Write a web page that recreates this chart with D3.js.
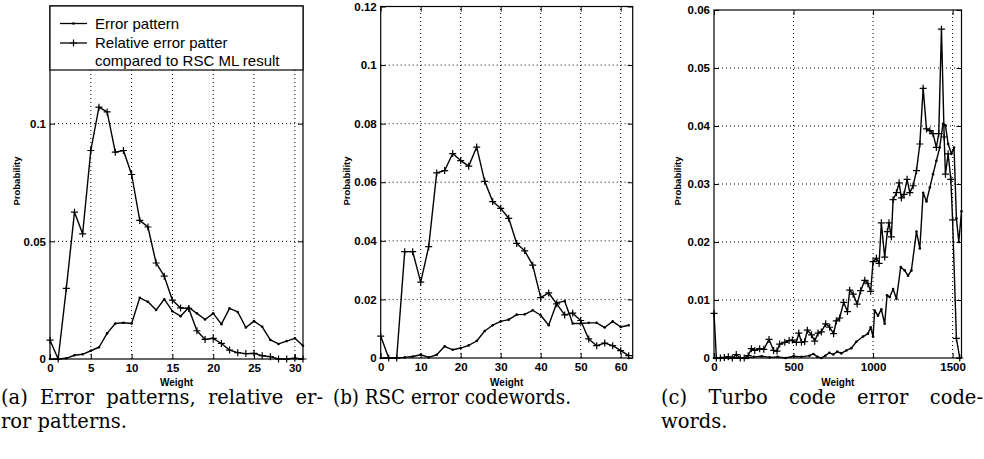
<!DOCTYPE html>
<html><head><meta charset="utf-8">
<script src="https://cdn.jsdelivr.net/npm/d3@7"></script>
<style>
body{margin:0;background:#fff;}
svg{display:block;}
</style></head><body>
<svg id="chart" width="984" height="459"></svg>
<script>
// ---------- data ----------
const aWeights = d3.range(0, 32);
const aErrorPattern = [0, 0, 0.0003, 0.0016, 0.002, 0.0035, 0.005, 0.0109, 0.0151, 0.0154, 0.0151, 0.026, 0.0243, 0.0208, 0.0254, 0.0203, 0.0182, 0.0219, 0.0194, 0.0168, 0.0194, 0.0148, 0.0215, 0.0200, 0.0134, 0.0161, 0.0137, 0.0081, 0.0064, 0.0076, 0.0088, 0.0056];
const aRelativePattern = [0.008, 0, 0.030, 0.0624, 0.0532, 0.0886, 0.107, 0.105, 0.0879, 0.0886, 0.0784, 0.0589, 0.0561, 0.0408, 0.0352, 0.025, 0.0217, 0.0215, 0.012, 0.0083, 0.0088, 0.0066, 0.0038, 0.0027, 0.0023, 0.0024, 0.0014, 0.001, 0, 0, 0.0003, 0];

const bWeights = d3.range(0, 63, 2);
const bErrorCodewords = [0, 0, 0, 0.0002, 0.0005, 0.0011, 0.0002, 0.0011, 0.004, 0.0028, 0.0034, 0.0043, 0.0058, 0.0092, 0.0112, 0.0125, 0.0131, 0.0148, 0.0149, 0.0163, 0.0146, 0.0112, 0.0188, 0.0194, 0.0118, 0.0118, 0.012, 0.012, 0.0104, 0.0125, 0.0106, 0.0112];
const bRelativeCodewords = [0.0075, 0, 0, 0.0363, 0.0363, 0.0259, 0.038, 0.0632, 0.064, 0.0698, 0.0674, 0.0655, 0.072, 0.0603, 0.0534, 0.0511, 0.0477, 0.0391, 0.0366, 0.0317, 0.0206, 0.0222, 0.0185, 0.0147, 0.0153, 0.0128, 0.0065, 0.0042, 0.0051, 0.0042, 0.0025, 0.0008];

const cErrWeights = [0, 100, 200, 250, 300, 350, 400, 450, 500, 550, 600, 625, 650, 675, 700, 725, 750, 775, 800, 832, 864, 895, 937, 968, 985, 1000, 1010, 1031, 1052, 1073, 1088, 1105, 1126, 1147, 1174, 1199, 1220, 1241, 1273, 1294, 1315, 1336, 1357, 1377, 1398, 1419, 1440, 1455, 1472, 1493, 1509, 1524, 1539, 1556];
const cErrorCodewords = [0, 0, 0, 0.0002, 0.0003, 0.0001, 0.0002, 0, 0.0003, 0.0002, 0.0004, 0.0007, 0.0002, 0, 0.0004, 0.0009, 0.0006, 0.0011, 0.0008, 0.0013, 0.0017, 0.0028, 0.0037, 0.0042, 0.0053, 0.0037, 0.0082, 0.0073, 0.0084, 0.0059, 0.0108, 0.0105, 0.0119, 0.0102, 0.0157, 0.0151, 0.0142, 0.0151, 0.0218, 0.0189, 0.0285, 0.027, 0.0294, 0.0317, 0.034, 0.0363, 0.0404, 0.0401, 0.0369, 0.0352, 0.0363, 0.0241, 0.02, 0.0253];
const cRelWeights = [0, 15, 40, 65, 90, 115, 140, 165, 190, 215, 235, 256, 287, 313, 346, 375, 396, 413, 445, 472, 493, 518, 533, 550, 570, 587, 613, 633, 654, 675, 702, 727, 752, 769, 790, 815, 839, 853, 875, 900, 922, 948, 968, 985, 1000, 1021, 1038, 1052, 1073, 1090, 1100, 1115, 1126, 1147, 1164, 1178, 1195, 1214, 1231, 1252, 1273, 1294, 1315, 1336, 1357, 1377, 1398, 1413, 1430, 1447, 1455, 1472, 1489, 1500, 1524, 1545];
const cRelativeCodewords = [0.0077, 0, 0, 0.0001, 0.0002, 0, 0.0006, 0, 0, 0.0004, 0.0016, 0.0013, 0.0016, 0.0015, 0.0032, 0.0013, 0.0012, 0.0024, 0.0027, 0.003, 0.0031, 0.0027, 0.0043, 0.0027, 0.0028, 0.0048, 0.004, 0.0029, 0.0043, 0.0045, 0.0059, 0.0053, 0.0042, 0.0064, 0.0069, 0.0096, 0.008, 0.0117, 0.011, 0.0093, 0.0116, 0.0134, 0.0128, 0.0115, 0.0166, 0.0172, 0.0163, 0.0233, 0.0174, 0.0218, 0.0233, 0.0209, 0.0273, 0.0285, 0.0302, 0.0276, 0.0282, 0.0308, 0.0285, 0.0297, 0.0323, 0.0369, 0.0465, 0.0395, 0.0392, 0.0387, 0.0363, 0.0387, 0.0567, 0.0381, 0.0317, 0.0352, 0.0308, 0.0238, 0.0034, 0];

const aXTicks = [0, 5, 10, 15, 20, 25, 30];
const aYTicks = [0, 0.05, 0.1];
const bXTicks = [0, 10, 20, 30, 40, 50, 60];
const bYTicks = [0, 0.02, 0.04, 0.06, 0.08, 0.1, 0.12];
const cXTicks = [0, 500, 1000, 1500];
const cYTicks = [0, 0.01, 0.02, 0.03, 0.04, 0.05, 0.06];

const xAxisTitle = "Weight";
const yAxisTitle = "Probability";
const legendLabels = ["Error pattern", "Relative error patter", "compared to RSC ML result"];
const captionA = ["(a) Error patterns, relative er-", "ror patterns."];
const captionB = ["(b) RSC error codewords."];
const captionC = ["(c) Turbo code error code-", "words."];

// ---------- drawing ----------
const svg = d3.select("#chart");
const SANS = "'Liberation Sans', Arial, sans-serif";
const SERIF = "'DejaVu Serif', serif";

const plusPath = "M-3.5,0H3.5M0,-3.5V3.5";

function panel(cfg) {
  const x = d3.scaleLinear().domain(cfg.xDomain).range([cfg.left, cfg.right]);
  const y = d3.scaleLinear().domain(cfg.yDomain).range([cfg.bottom, cfg.top]);
  const g = svg.append("g");

  // grid
  g.append("g").selectAll("line").data(cfg.xTicks.filter(v => x(v) > cfg.left + 1 && x(v) < cfg.right - 1))
    .join("line").attr("x1", d => x(d)).attr("x2", d => x(d)).attr("y1", cfg.bottom).attr("y2", cfg.top)
    .attr("stroke", "#000").attr("stroke-width", 1).attr("stroke-dasharray", "1,3");
  g.append("g").selectAll("line").data(cfg.yTicks.filter(v => y(v) < cfg.bottom - 1 && y(v) > cfg.top + 1))
    .join("line").attr("y1", d => y(d)).attr("y2", d => y(d)).attr("x1", cfg.left).attr("x2", cfg.right)
    .attr("stroke", "#000").attr("stroke-width", 1).attr("stroke-dasharray", "1,3");

  // axes
  const styleAxis = sel => {
    sel.select(".domain").remove();
    sel.selectAll(".tick line").attr("stroke", "#000").attr("stroke-width", 1);
    sel.selectAll("text").attr("font-family", SANS).attr("font-weight", "bold").attr("font-size", 11.5).attr("fill", "#000");
  };
  g.append("g").attr("transform", `translate(0,${cfg.bottom})`)
    .call(d3.axisBottom(x).tickValues(cfg.xTicks).tickSizeInner(-5).tickSizeOuter(0).tickPadding(5).tickFormat(d => String(d)))
    .call(styleAxis);
  g.append("g").attr("transform", `translate(${cfg.left},0)`)
    .call(d3.axisLeft(y).tickValues(cfg.yTicks).tickSizeInner(-5).tickSizeOuter(0).tickPadding(4).tickFormat(d => String(d)))
    .call(styleAxis);
  g.append("g").attr("transform", `translate(0,${cfg.top})`)
    .call(d3.axisTop(x).tickValues(cfg.xTicks).tickSizeInner(-5).tickSizeOuter(0).tickFormat(""))
    .call(styleAxis);
  g.append("g").attr("transform", `translate(${cfg.right},0)`)
    .call(d3.axisRight(y).tickValues(cfg.yTicks).tickSizeInner(-5).tickSizeOuter(0).tickFormat(""))
    .call(styleAxis);

  // series
  const line = d3.line().x(d => x(d[0])).y(d => y(d[1]));
  cfg.series.forEach(s => {
    const pts = s.x.map((v, i) => [v, s.y[i]]);
    g.append("path").datum(pts).attr("d", line).attr("fill", "none").attr("stroke", "#000").attr("stroke-width", 1.4).attr("stroke-linejoin", "round");
    if (s.marker === "plus") {
      g.append("g").selectAll("path").data(pts).join("path")
        .attr("transform", d => `translate(${x(d[0])},${y(d[1])})`).attr("d", plusPath)
        .attr("stroke", "#000").attr("stroke-width", 1.2).attr("fill", "none");
    } else {
      g.append("g").selectAll("circle").data(pts).join("circle")
        .attr("cx", d => x(d[0])).attr("cy", d => y(d[1])).attr("r", 1.3).attr("fill", "#000");
    }
  });

  // frame
  g.append("rect").attr("x", cfg.left).attr("y", cfg.top).attr("width", cfg.right - cfg.left).attr("height", cfg.bottom - cfg.top)
    .attr("fill", "none").attr("stroke", "#000").attr("stroke-width", 1.2);

  // titles
  g.append("text").attr("x", (cfg.left + cfg.right) / 2).attr("y", 385.5).attr("text-anchor", "middle")
    .attr("font-family", SANS).attr("font-weight", "bold").attr("font-size", 10).text(xAxisTitle);
  g.append("text").attr("transform", `translate(${cfg.ylabX},181) rotate(-90)`).attr("text-anchor", "middle")
    .attr("font-family", SANS).attr("font-weight", "bold").attr("font-size", 9.5).text(yAxisTitle);
  return {g, x, y};
}

const pa = panel({left: 50, right: 303, top: 6, bottom: 359, xDomain: [0, 31], yDomain: [0, 0.15],
  xTicks: aXTicks, yTicks: aYTicks, ylabX: 20,
  series: [{x: aWeights, y: aErrorPattern, marker: "dot"}, {x: aWeights, y: aRelativePattern, marker: "plus"}]});

panel({left: 380.7, right: 632.7, top: 6.5, bottom: 358, xDomain: [0, 63], yDomain: [0, 0.12],
  xTicks: bXTicks, yTicks: bYTicks, ylabX: 350,
  series: [{x: bWeights, y: bErrorCodewords, marker: "dot"}, {x: bWeights, y: bRelativeCodewords, marker: "plus"}]});

panel({left: 714, right: 961.5, top: 10, bottom: 358, xDomain: [0, 1556], yDomain: [0, 0.06],
  xTicks: cXTicks, yTicks: cYTicks, ylabX: 681,
  series: [{x: cErrWeights, y: cErrorCodewords, marker: "dot"}, {x: cRelWeights, y: cRelativeCodewords, marker: "plus"}]});

// legend (panel a)
const lg = pa.g.append("g");
lg.append("rect").attr("x", 50).attr("y", 6).attr("width", 253).attr("height", 64)
  .attr("fill", "#fff").attr("stroke", "#000").attr("stroke-width", 1.2);
const legY = [23.5, 43];
legY.forEach((yy, i) => {
  lg.append("line").attr("x1", 60).attr("x2", 87).attr("y1", yy).attr("y2", yy).attr("stroke", "#000").attr("stroke-width", 1.3);
  if (i === 0) lg.append("circle").attr("cx", 73.5).attr("cy", yy).attr("r", 1.3).attr("fill", "#000");
  else lg.append("path").attr("transform", `translate(73.5,${yy})`).attr("d", plusPath).attr("stroke", "#000").attr("stroke-width", 1.2);
});
[28.5, 48, 66].forEach((yy, i) => {
  lg.append("text").attr("x", 95).attr("y", yy).attr("font-family", SANS).attr("font-size", 15).attr("fill", "#000").text(legendLabels[i]);
});

// captions
const capG = svg.append("g").attr("font-family", SERIF).attr("font-size", 19.5).attr("fill", "#000");
function justify(text, x0, x1, y) {
  const words = text.split(" ");
  const nodes = words.map(w => capG.append("text").attr("y", y).text(w));
  const widths = nodes.map(n => n.node().getComputedTextLength());
  const gap = (x1 - x0 - d3.sum(widths)) / (words.length - 1);
  let cx = x0;
  nodes.forEach((n, i) => { n.attr("x", cx); cx += widths[i] + gap; });
}
function plain(text, x0, y, w) {
  const t = capG.append("text").attr("x", x0).attr("y", y).text(text);
  if (w) t.attr("textLength", w).attr("lengthAdjust", "spacingAndGlyphs");
}
justify(captionA[0], 1, 323, 404);
plain(captionA[1], 1, 428);
plain(captionB[0], 333, 404, 238);
justify(captionC[0], 661, 983, 404);
plain(captionC[1], 661, 428);
</script>
</body></html>
